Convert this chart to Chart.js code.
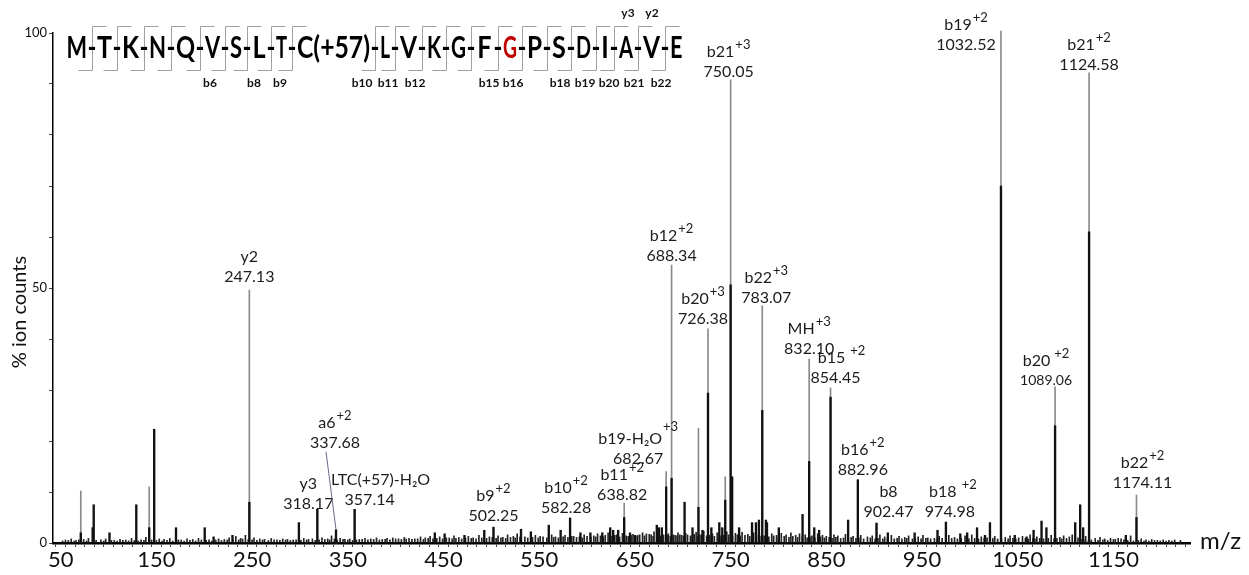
<!DOCTYPE html>
<html><head><meta charset="utf-8">
<script src="https://cdn.jsdelivr.net/npm/chart.js@4.4.1/dist/chart.umd.min.js"></script>
<style>html,body{margin:0;padding:0;background:#fff;}#wrap{width:1249px;height:575px;}</style>
</head><body><div id="wrap"><canvas id="c" width="1249" height="575"></canvas></div>
<script>
// ---- peptide sequence ----
const residues = ['M','T','K','N','Q','V','S','L','T','C(+57)','L','V','K','G','F','G','P','S','D','I','A','V','E'];
const bIons = [6,8,9,10,11,12,15,16,18,19,20,21,22];
const yIons = [3,2];

// ---- black peaks (m/z, % intensity) ----
const peakMz = [71.0,83.4,84.5,101.0,129.0,142.5,147.7,170.5,200.5,209.8,229.5,247.13,298.9,318.17,337.68,357.14,440.9,451.2,471.9,492.6,502.25,531.0,541.3,560.0,572.4,582.28,593.1,603.5,615.9,624.2,627.3,632.5,638.82,644.9,650.1,672.9,675.0,678.1,682.67,688.34,701.9,710.2,716.4,720.6,726.38,729.9,738.2,741.3,744.4,750.05,751.6,758.9,772.4,776.5,779.6,783.07,786.9,788.0,800.4,825.2,832.10,837.4,842.5,854.45,872.8,882.96,902.47,914.3,942.3,966.2,974.98,990.0,997.2,1007.5,1015.8,1021.0,1032.52,1046.9,1059.3,1066.6,1074.9,1080.0,1089.06,1110.1,1115.3,1118.4,1124.58,1163.0,1174.11];
const peakInt = [2.0,3.0,7.5,2.0,7.5,3.0,22.3,3.0,3.0,1.2,1.5,8.0,4.0,6.6,2.6,6.6,2.0,1.8,1.5,2.5,3.1,2.7,2.2,3.5,2.5,4.9,2.0,2.0,2.0,3.0,2.5,2.5,5.0,2.0,1.5,3.5,3.0,3.0,11.0,12.7,8.0,3.0,7.0,2.5,29.4,3.0,4.0,3.0,8.4,50.6,13.0,3.0,4.0,4.0,4.5,26.0,4.5,4.0,3.0,5.6,16.0,3.0,2.5,28.6,4.5,12.4,3.9,2.0,2.0,2.5,4.1,1.8,2.0,3.0,1.5,4.0,70.0,1.5,1.2,2.5,4.3,3.0,23.0,4.0,7.5,3.0,61.0,1.5,5.0];

// ---- thin grey lines without labels ----
const greyMz = [71.0,142.5,716.4,744.4];
const greyInt = [10.2,11.0,22.5,13.0];

// ---- labelled peaks ----
const annMz = [247.13,318.17,337.68,357.14,502.25,582.28,638.82,682.67,688.34,726.38,750.05,783.07,832.10,854.45,882.96,902.47,974.98,1032.52,1089.06,1124.58,1174.11];
const annName = ['y2','y3','a6','LTC(+57)-H\u2082O','b9','b10','b11','b19-H\u2082O','b12','b20','b21','b22','MH','b15','b16','b8','b18','b19','b20','b21','b22'];
const annCharge = ['','','+2','','+2','+2','+2','+3','+2','+3','+3','+3','+3','+2','+2','','+2','+2','+2','+2','+2'];
const leaderTop = [49.6,6.6,2.6,6.6,3.1,4.9,7.8,14.0,54.5,42.0,90.8,46.5,36.1,30.4,12.4,3.9,4.1,100.4,30.6,92.2,9.4];

// ---- baseline noise ----
const noiseMz = [55,61,66,74,79,92,97,106,112,118,124,134,139,153,158,164,176,182,188,194,205,215,221,226,233,238,243,252,258,263,270,276,282,287,293,304,309,313,323,329,333,342,347,352,362,368,374,380,386,391,397,403,409,414,420,426,431,436,446,456,461,466,476,481,487,498,507,512,517,523,527,535,546,551,563,567,577,586,597,607,611,619,622,631,637,641,648,653,658,662,667,670,685,692,695,697,703,712,714,718,722,731,736,746,748,755,762,768,774,780,793,798,803,808,813,818,822,828,835,841,846,850,858,862,870,878,886,893,898,906,911,918,926,932,936,946,951,956,968,978,984,995,1002,1012,1018,1026,1037,1042,1051,1055,1063,1070,1085,1094,1098,1104,1107,1113,1121,1131,1136,1141,1147,1152,1158,1168,1179,1184,1190,1196,1202,1208,1214,1220];
const noiseInt = [0.6,0.8,0.5,0.7,0.9,0.6,0.8,0.5,0.7,0.6,0.9,0.6,1.1,0.8,0.7,0.9,0.6,0.8,0.7,0.9,0.6,0.8,0.7,1.0,1.3,0.9,1.5,1.0,0.8,0.7,0.9,0.6,0.8,0.7,0.6,0.9,0.7,0.8,1.0,0.8,1.4,0.9,0.7,0.8,0.7,0.9,0.8,1.0,0.7,0.9,1.0,0.8,1.1,0.9,0.8,1.2,1.0,1.3,1.2,1.0,1.4,1.1,1.3,1.0,1.5,1.2,1.4,1.1,1.6,1.3,1.8,1.2,1.5,1.3,1.6,1.2,1.5,1.3,1.6,1.4,1.8,1.5,2.0,1.6,1.9,1.4,1.7,1.5,2.0,1.8,1.6,2.2,1.8,1.5,2.0,1.6,1.9,1.7,2.1,1.6,2.3,1.8,2.0,2.2,1.6,1.9,2.1,1.7,2.0,1.6,1.8,1.5,1.9,1.6,2.0,1.5,1.8,1.6,1.4,1.8,1.5,1.3,1.6,1.4,1.7,1.3,1.5,1.2,1.4,1.6,1.2,1.5,1.3,1.1,1.4,1.2,1.5,1.0,1.3,1.5,1.1,1.4,1.6,1.2,1.0,1.3,1.1,1.4,1.0,1.3,1.6,1.2,1.5,1.1,1.4,1.2,1.6,1.0,1.3,0.9,1.1,0.8,0.9,0.7,0.8,1.4,0.8,0.6,0.7,0.5,0.6,0.5,0.6,0.5];
const fineNoiseMz = [52,58,64,69,77,87,95,103,109,115,121,127,131,137,145,150,156,161,167,173,179,185,191,197,202,208,212,218,224,230,236,240,246,250,255,261,267,273,279,285,290,296,301,307,316,320,326,331,336,339,345,350,355,359,365,371,377,383,389,394,400,406,411,417,423,429,434,439,443,449,453,459,463,469,473,479,484,490,495,501,505,510,515,520,525,530,538,543,549,554,558,565,570,575,580,584,589,592,595,600,604,609,614,617,625,629,634,639,643,646,651,655,660,665,669,673,677,680,684,687,690,694,699,701,705,708,710,716,720,725,728,733,738,740,743,752,757,760,765,770,777,782,785,790,795,800,806,811,815,820,825,830,833,838,844,848,853,856,860,865,868,873,876,881,884,889,896,901,904,909,914,921,924,929,934,940,943,949,954,959,963,966,971,975,981,987,991,999,1005,1009,1015,1021,1024,1029,1033,1040,1045,1048,1058,1061,1066,1068,1073,1077,1082,1088,1091,1096,1101,1110,1116,1119,1124,1127,1134,1139,1144,1150,1155,1161,1165,1171,1176,1182,1187,1193,1199,1205,1211,1217,1222];
const fineNoiseInt = [0.4,0.5,0.4,0.6,0.4,0.5,0.4,0.5,0.4,0.5,0.4,0.5,0.4,0.5,0.6,0.5,0.4,0.5,0.4,0.6,0.4,0.5,0.4,0.6,0.5,0.4,0.6,0.5,0.6,0.7,0.6,0.8,0.7,0.6,0.5,0.6,0.5,0.6,0.5,0.6,0.5,0.6,0.5,0.6,0.5,0.6,0.7,0.6,0.8,0.6,0.7,0.6,0.5,0.6,0.7,0.6,0.7,0.6,0.7,0.6,0.8,0.7,0.8,0.7,0.8,0.7,0.9,0.8,0.9,0.8,1.0,0.8,0.9,0.8,1.0,0.9,0.8,1.0,0.9,1.1,0.9,1.0,0.9,1.1,1.0,1.2,1.0,1.1,1.0,1.2,1.0,1.1,1.0,1.2,1.1,1.3,1.1,1.2,1.0,1.3,1.1,1.2,1.4,1.2,1.3,1.5,1.2,1.4,1.3,1.5,1.3,1.6,1.4,1.7,1.3,1.5,1.4,1.6,1.5,1.3,1.6,1.4,1.5,1.3,1.6,1.4,1.5,1.3,1.6,1.4,1.5,1.3,1.6,1.4,1.5,1.3,1.6,1.4,1.5,1.3,1.5,1.3,1.4,1.2,1.4,1.2,1.3,1.1,1.3,1.1,1.2,1.0,1.2,1.0,1.2,1.0,1.1,0.9,1.1,0.9,1.0,0.9,1.1,0.9,1.0,0.8,1.0,0.8,0.9,0.8,1.0,0.8,0.9,0.8,0.9,0.8,0.9,0.8,0.9,0.8,0.9,0.8,0.9,0.8,0.9,0.8,0.9,0.8,0.9,0.8,0.9,0.8,0.9,0.8,0.9,0.8,0.9,0.8,0.9,0.8,0.9,0.8,0.9,0.8,0.9,0.8,0.9,0.8,0.9,0.8,0.7,0.6,0.5,0.6,0.5,0.6,0.5,0.7,0.9,0.6,0.5,0.4,0.5,0.4,0.4,0.5,0.4,0.4,0.4];

// ---- axis tick labels ----
const xTickLabels = ['50','150','250','350','450','550','650','750','850','950','1050','1150'];
const yTickLabels = ['0','50','100'];

// ---- layout (pixels), kept apart from the data ----
const seqDashX = [92,117,144,171,200,225,247,271,292,375,395,422,446,471,498,522,547,571,596,614,638,665];
const seqStart = 67, seqEnd = 682;
const bLabelX = {6:210,8:254,9:280,10:362,11:388,12:415,15:489,16:513,18:560,19:585,20:609,21:634,22:661};
const yLabelX = {3:628,2:652};
const labelLayout = [
  {dx:0,dy:-13},{dx:-9,dy:-5},{dx:-1,dy:-87,slant:true},{dx:15,dy:-9,ndx:11},
  {dx:0,dy:-11},{dx:-4,dy:-10},{dx:-2,dy:-8},{dx:-28,dy:-13,supDy:12},
  {dx:0,dy:-9},{dx:-5,dy:-10},{dx:-2,dy:-8},{dx:4,dy:-8},
  {dx:0,dy:-10},{dx:5,dy:-10,ndx:6,gap:5},{dx:5,dy:-10},{dx:12,dy:-11},
  {dx:4,dy:-10,ndx:3,gap:5},{dx:-35,dy:14},{dx:-9,dy:-6,mzSize:14,gap:4},{dx:0,dy:-8},{dx:6,dy:-12}
];

const FONT = 'Lato, "Open Sans", sans-serif';
const xy = (xs, ys) => xs.map((v, i) => ({x: v, y: ys[i]}));

const labelPlugin = {
  id: 'peakLabels',
  afterDatasetsDraw(chart) {
    const {ctx, scales: {x, y}} = chart;
    ctx.save();
    ctx.fillStyle = '#1c1c1c';
    ctx.textBaseline = 'middle';
    annMz.forEach((mz, i) => {
      const L = labelLayout[i];
      const px = x.getPixelForValue(mz);
      const topPx = y.getPixelForValue(leaderTop[i]);
      const mzY = topPx + L.dy;
      const cx = px + L.dx;
      ctx.textAlign = 'center';
      ctx.font = (L.mzSize || 16) + 'px ' + FONT;
      ctx.fillText(mz.toFixed(2), cx, mzY);
      const nameY = mzY - 20;
      ctx.font = '16px ' + FONT;
      const wN = ctx.measureText(annName[i]).width;
      ctx.font = '13px ' + FONT;
      const gap = annCharge[i] ? (L.gap || 1) : 0;
      const wC = annCharge[i] ? ctx.measureText(annCharge[i]).width + gap : 0;
      const gx = cx + (L.ndx || 0) - (wN + wC) / 2;
      ctx.textAlign = 'left';
      ctx.font = '16px ' + FONT;
      ctx.fillText(annName[i], gx, nameY);
      if (annCharge[i]) {
        ctx.font = '13px ' + FONT;
        ctx.fillText(annCharge[i], gx + wN + gap, nameY - (L.supDy || 7));
      }
      if (L.slant) {
        ctx.strokeStyle = '#6a6a8a';
        ctx.lineWidth = 1;
        ctx.beginPath();
        ctx.moveTo(cx - 9, mzY + 9);
        ctx.lineTo(px, topPx);
        ctx.stroke();
      }
    });
    ctx.restore();
  }
};

const decorPlugin = {
  id: 'decor',
  afterDraw(chart) {
    const ctx = chart.ctx, ca = chart.chartArea;
    ctx.save();
    ctx.fillStyle = '#111';
    ctx.font = '24px ' + FONT;
    ctx.textAlign = 'left'; ctx.textBaseline = 'middle';
    ctx.fillText('m/z', ca.right + 10, ca.bottom - 2);
    ctx.save();
    ctx.translate(20, 312); ctx.rotate(-Math.PI / 2);
    ctx.textAlign = 'center';
    ctx.font = '20px ' + FONT;
    ctx.fillText('% ion counts', 0, 0);
    ctx.restore();

    // brackets
    ctx.strokeStyle = '#a0a0a0'; ctx.lineWidth = 1;
    seqDashX.forEach(d => {
      const cx = d + 0.5;
      ctx.beginPath();
      ctx.moveTo(cx + 14, 26.5); ctx.lineTo(cx, 26.5); ctx.lineTo(cx, 70.5); ctx.lineTo(cx - 14, 70.5);
      ctx.stroke();
    });
    // sequence text
    ctx.font = 'bold 30px ' + FONT;
    ctx.textAlign = 'center'; ctx.textBaseline = 'alphabetic';
    const dashW = ctx.measureText('-').width * 0.8;
    const bounds = [seqStart - dashW / 2 - 1].concat(seqDashX, [seqEnd + dashW / 2 + 1]);
    residues.forEach((r, i) => {
      const l = bounds[i] + dashW / 2 + 0.5, rgt = bounds[i + 1] - dashW / 2 - 0.5;
      const w = ctx.measureText(r).width;
      const s = Math.min(0.84, (rgt - l) / w);
      ctx.save();
      ctx.translate((l + rgt) / 2, 58); ctx.scale(s, 1);
      ctx.fillStyle = i === 15 ? '#c00000' : '#000';
      ctx.fillText(r, 0, 0);
      ctx.restore();
    });
    seqDashX.forEach(d => {
      ctx.save(); ctx.translate(d, 58); ctx.scale(0.8, 1);
      ctx.fillStyle = '#000'; ctx.fillText('-', 0, 0); ctx.restore();
    });
    ctx.font = 'bold 12px ' + FONT;
    ctx.fillStyle = '#111';
    ctx.textBaseline = 'middle';
    bIons.forEach(n => ctx.fillText('b' + n, bLabelX[n], 83));
    yIons.forEach(k => ctx.fillText('y' + k, yLabelX[k], 13));
    ctx.restore();
  }
};

new Chart(document.getElementById('c'), {
  type: 'bar',
  data: {
    datasets: [
      {label: 'peaks', data: xy(peakMz, peakInt), backgroundColor: '#111', barThickness: 1.7, grouped: false, order: 0, clip: false},
      {label: 'noise', data: xy(noiseMz, noiseInt), backgroundColor: '#222', barThickness: 1, grouped: false, order: 1},
      {label: 'fine noise', data: xy(fineNoiseMz, fineNoiseInt), backgroundColor: '#222', barThickness: 1, grouped: false, order: 1},
      {label: 'leaders', data: xy(annMz.concat(greyMz), leaderTop.map((v, i) => annName[i] === 'a6' ? 0 : v).concat(greyInt)), backgroundColor: '#8a8a8a', barThickness: 1, grouped: false, order: 2, clip: false}
    ]
  },
  options: {
    responsive: false, animation: false,
    layout: {padding: {left: 0, top: 33, right: 59, bottom: 0}},
    plugins: {legend: {display: false}, tooltip: {enabled: false}},
    scales: {
      x: {
        type: 'linear', min: 47, max: 1225,
        afterBuildTicks: s => { const t = []; for (let v = 50; v <= 1220; v += 10) t.push({value: v}); s.ticks = t; },
        ticks: {autoSkip: false, maxRotation: 0, minRotation: 0, padding: 0, color: '#111', font: {family: FONT, size: 22},
          callback: v => { const s = String(v); return xTickLabels.includes(s) ? s : ''; }},
        grid: {drawOnChartArea: false, tickLength: 4, color: '#444', lineWidth: 1},
        border: {color: '#000', width: 2.5},
        afterFit: s => { s.height = 32; }
      },
      y: {
        min: 0, max: 100,
        afterBuildTicks: s => { const t = []; for (let v = 0; v <= 100; v += 10) t.push({value: v}); s.ticks = t; },
        ticks: {autoSkip: false, padding: 2, color: '#111', font: {family: FONT, size: 13},
          callback: v => { const s = String(v); return yTickLabels.includes(s) ? s : ''; }},
        grid: {drawOnChartArea: false, tickLength: 4, color: '#444', lineWidth: 1},
        border: {color: '#000', width: 1.5},
        afterFit: s => { s.width = 53; }
      }
    }
  },
  plugins: [labelPlugin, decorPlugin]
});
</script></body></html>
